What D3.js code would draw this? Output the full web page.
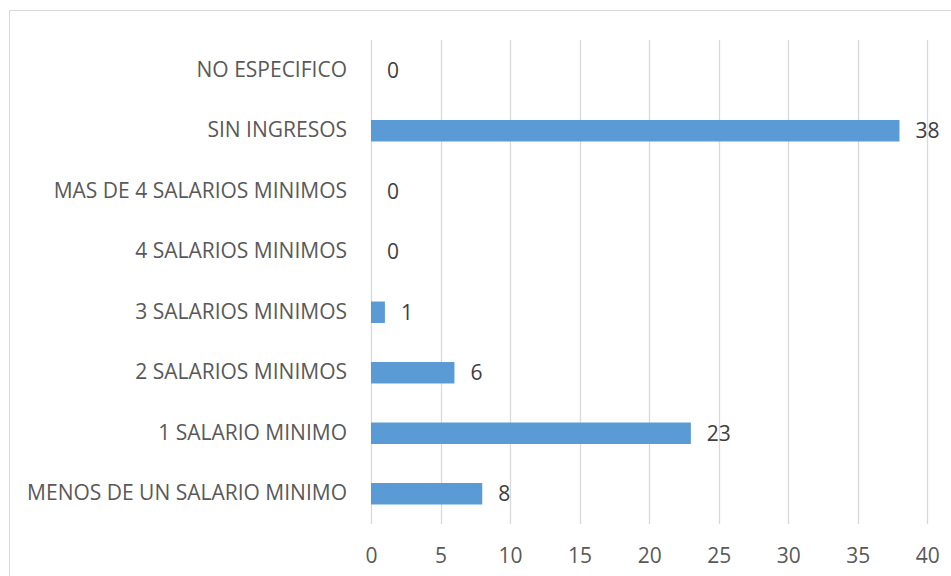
<!DOCTYPE html>
<html>
<head>
<meta charset="utf-8">
<script src="https://cdn.jsdelivr.net/npm/d3@7"></script>
<style>
  body { margin: 0; background: #fff; }
  text { font-family: "Open Sans", sans-serif; }
</style>
</head>
<body>
<script>
// categories top to bottom, as they appear in the chart
const categories = [
  "NO ESPECIFICO",
  "SIN INGRESOS",
  "MAS DE 4 SALARIOS MINIMOS",
  "4 SALARIOS MINIMOS",
  "3 SALARIOS MINIMOS",
  "2 SALARIOS MINIMOS",
  "1 SALARIO MINIMO",
  "MENOS DE UN SALARIO MINIMO"
];
const values = [0, 38, 0, 0, 1, 6, 23, 8];
const xTicks = [0, 5, 10, 15, 20, 25, 30, 35, 40];

const width = 951, height = 576;
const margin = {top: 40, right: 24, bottom: 52, left: 371};

const svg = d3.select("body").append("svg")
  .attr("width", width)
  .attr("height", height);

// chart area border
svg.append("rect")
  .attr("x", 9.5).attr("y", 10.5)
  .attr("width", width + 20).attr("height", height + 20)
  .attr("fill", "none")
  .attr("stroke", "#d9d9d9");

const x = d3.scaleLinear().domain([0, 40]).range([margin.left, 927.3]);
const y = d3.scaleBand().domain(categories)
  .range([margin.top, height - margin.bottom])
  .paddingInner(0.645).paddingOuter(0.3225);

// gridlines
svg.append("g")
  .selectAll("line")
  .data(xTicks)
  .join("line")
  .attr("x1", d => Math.round(x(d)) + 0.5)
  .attr("x2", d => Math.round(x(d)) + 0.5)
  .attr("y1", margin.top)
  .attr("y2", height - margin.bottom)
  .attr("stroke", "#d9d9d9")
  .attr("stroke-width", 1.3);

// x axis labels
const xAxis = d3.axisBottom(x).tickValues(xTicks).tickSize(0).tickPadding(0);
svg.append("g")
  .attr("transform", `translate(0,${height - margin.bottom})`)
  .call(xAxis)
  .call(g => g.select(".domain").remove())
  .call(g => g.selectAll("text")
    .attr("y", 39)
    .attr("dy", 0)
    .attr("fill", "#595959")
    .style("font-size", "21px")
    .style("font-family", "Open Sans, sans-serif"));

// y axis labels
const yAxis = d3.axisLeft(y).tickSize(0).tickPadding(24);
svg.append("g")
  .attr("transform", `translate(${margin.left},0)`)
  .call(yAxis)
  .call(g => g.select(".domain").remove())
  .call(g => g.selectAll("text")
    .attr("fill", "#595959")
    .style("font-size", "21px")
    .style("font-family", "Open Sans, sans-serif"));

// bars
svg.append("g")
  .selectAll("rect")
  .data(values)
  .join("rect")
  .attr("x", x(0))
  .attr("y", (d, i) => y(categories[i]))
  .attr("width", d => x(d) - x(0))
  .attr("height", y.bandwidth())
  .attr("fill", "#5b9bd5");

// value labels
svg.append("g")
  .selectAll("text")
  .data(values)
  .join("text")
  .attr("x", d => x(d) + 16)
  .attr("y", (d, i) => y(categories[i]) + y.bandwidth() / 2)
  .attr("dy", "0.35em")
  .attr("fill", "#404040")
  .style("font-size", "21px")
  .text(d => d);
</script>
</body>
</html>
